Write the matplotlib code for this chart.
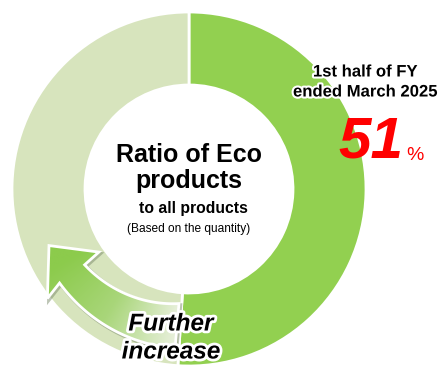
import numpy as np
import matplotlib
matplotlib.use("Agg")
import matplotlib.pyplot as plt
from matplotlib.patches import Polygon
from matplotlib.colors import LinearSegmentedColormap
import matplotlib.patheffects as pe

# ---- data ----
categories = ["Eco products", "Other products"]
shares = [51, 49]
colors = ["#92D050", "#D7E4BD"]
center_title = ["Ratio of Eco", "products"]
center_sub = "to all products"
center_note = "(Based on the quantity)"
period_label = ["1st half of FY", "ended March 2025"]
value_label = "51"
arrow_label = ["Further", "increase"]

W, H = 442, 365
fig = plt.figure(figsize=(W / 100, H / 100), dpi=100)
ax = fig.add_axes([0, 0, 1, 1])

cx, cy = 189, 176
R_out, R_in = 177, 104

ax.pie(shares, colors=colors, startangle=90, counterclock=False,
       center=(cx, cy), radius=R_out,
       wedgeprops=dict(width=R_out - R_in, edgecolor="white", linewidth=2))
ax.set_xlim(0, W)
ax.set_ylim(0, H)
ax.set_aspect("equal")
ax.axis("off")

# ---- curved arrow ----
def pol(r, a):
    t = np.deg2rad(a)
    return (cx + r * np.cos(t), cy + r * np.sin(t))

a_end, a_base = 265, 216
angs = np.linspace(a_end, a_base, 40)
inner = [pol(115 + (129 - 115) * (a_end - a) / (a_end - a_base), a) for a in angs]
outer = [pol(160, a) for a in angs[::-1]]
head = [pol(110, 215), pol(151, 202), pol(179, 217.7)]
pts = inner + head + outer
shadow = Polygon([(x + 1.5, y - 1.5) for x, y in pts], closed=True,
                 facecolor="none", edgecolor="#7a8a6a", lw=2.5, alpha=0.5, zorder=3)
ax.add_patch(shadow)
poly = Polygon(pts, closed=True, facecolor="none", edgecolor="white", lw=2, zorder=5)
ax.add_patch(poly)

xs = np.linspace(0, W, 300)
ys = np.linspace(0, H, 250)
X, Y = np.meshgrid(xs, ys)
A = np.degrees(np.arctan2(Y - cy, X - cx)) % 360
val = np.clip((A - 210) / (264 - 210), 0, 1)
cmap = LinearSegmentedColormap.from_list("g", ["#8ccb4c", "#a9d67a", "#e6efd8"])
im = ax.imshow(val, extent=(0, W, 0, H), origin="lower", cmap=cmap,
               vmin=0, vmax=1, zorder=4, interpolation="bilinear")
clip = Polygon(pts, closed=True, transform=ax.transData)
im.set_clip_path(clip)
ax.set_xlim(0, W)
ax.set_ylim(0, H)

# ---- texts ----
fam = ["Liberation Sans", "DejaVu Sans"]
glow = [pe.withStroke(linewidth=3, foreground="white")]
ax.text(cx, 365 - 155, center_title[0], ha="center", va="center",
        fontsize=18, fontweight="bold", family=fam)
ax.text(cx, 365 - 181, center_title[1], ha="center", va="center",
        fontsize=18, fontweight="bold", family=fam)
ax.text(cx + 4, 365 - 209, center_sub, ha="center", va="center",
        fontsize=11.3, fontweight="bold", family=fam)
ax.text(cx, 365 - 229, center_note, ha="center", va="center",
        fontsize=8.6, family=fam)

ax.text(365, 365 - 72, period_label[0], ha="center", va="center",
        fontsize=12, fontweight="bold", family=fam, path_effects=glow)
ax.text(365, 365 - 92, period_label[1], ha="center", va="center",
        fontsize=12, fontweight="bold", family=fam, path_effects=glow)
ax.text(371, 365 - 142, value_label, ha="center", va="center", color="#FF0000",
        fontsize=42, fontweight="bold", style="italic", family=fam)
ax.text(415, 365 - 156, "%", ha="center", va="center", color="#FF0000",
        fontsize=14, family=fam)

fglow = [pe.withStroke(linewidth=4, foreground="white")]
ax.text(171, 365 - 324, arrow_label[0], ha="center", va="center",
        fontsize=17.5, fontweight="bold", style="italic", family=fam,
        path_effects=fglow, zorder=6)
ax.text(171, 365 - 352, arrow_label[1], ha="center", va="center",
        fontsize=17.5, fontweight="bold", style="italic", family=fam,
        path_effects=fglow, zorder=6)

fig.savefig("out.png", dpi=100)
